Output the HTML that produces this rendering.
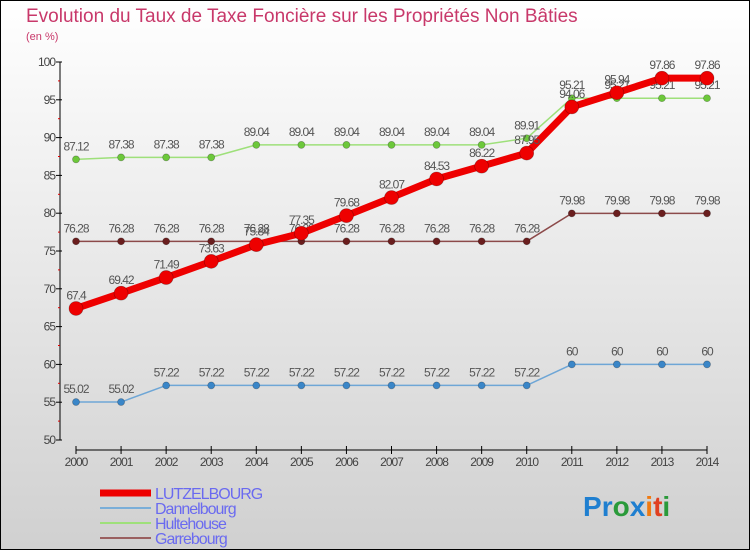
<!DOCTYPE html>
<html><head><meta charset="utf-8"><style>
html,body{margin:0;padding:0}
body{width:750px;height:550px;overflow:hidden;font-family:"Liberation Sans",sans-serif}
</style></head><body>
<svg width="750" height="550" xmlns="http://www.w3.org/2000/svg" id="svg">
<defs><linearGradient id="bg" x1="0" y1="0" x2="0" y2="1"><stop offset="0" stop-color="#ffffff"/><stop offset="1" stop-color="#d0d0d0"/></linearGradient></defs>
<rect x="0.5" y="0.5" width="749" height="549" fill="url(#bg)" stroke="#000"/>
<text x="26" y="22" font-size="19" fill="#c8386a">Evolution du Taux de Taxe Foncière sur les Propriétés Non Bâties</text>
<text x="26" y="40" font-size="11" fill="#c8386a">(en %)</text>
<g id="axes"></g>
<g id="series"></g>
<g id="legend"></g>
<text x="583" y="516" font-size="28" font-weight="bold"><tspan fill="#1f7fd0">P</tspan><tspan fill="#1f7fd0">r</tspan><tspan fill="#2a9a3a">o</tspan><tspan fill="#1f7fd0">x</tspan><tspan fill="#f07a10">i</tspan><tspan fill="#e04020">t</tspan><tspan fill="#2a9a3a">i</tspan></text>
</svg>
<script>
const years=[2000,2001,2002,2003,2004,2005,2006,2007,2008,2009,2010,2011,2012,2013,2014];
const yTicks=[50,55,60,65,70,75,80,85,90,95,100];
const lutz=[67.4,69.42,71.49,73.63,75.84,77.35,79.68,82.07,84.53,86.22,87.95,94.06,95.94,97.86,97.86];
const dann=[55.02,55.02,57.22,57.22,57.22,57.22,57.22,57.22,57.22,57.22,57.22,60,60,60,60];
const hult=[87.12,87.38,87.38,87.38,89.04,89.04,89.04,89.04,89.04,89.04,89.91,95.21,95.21,95.21,95.21];
const garr=[76.28,76.28,76.28,76.28,76.28,76.28,76.28,76.28,76.28,76.28,76.28,79.98,79.98,79.98,79.98];
const NS="http://www.w3.org/2000/svg";
function xS(i){return 76+i*(707-76)/(years.length-1);}
function yS(v){return 440-(v-50)*(440-62)/50;}
function mk(tag,attrs,parent,txt){const e=document.createElementNS(NS,tag);for(const k in attrs)e.setAttribute(k,attrs[k]);if(txt!==undefined)e.textContent=txt;parent.appendChild(e);return e;}
const ax=document.getElementById('axes');
let e=mk('line',{x1:60,y1:62,x2:60,y2:440,stroke:'#000'},ax);

e=mk('line',{x1:76,y1:450,x2:707,y2:450,stroke:'#000'},ax);

yTicks.forEach(v=>{
  mk('line',{x1:56,y1:yS(v),x2:62,y2:yS(v),stroke:'#000'},ax);
  if(v<100)mk('line',{x1:58,y1:yS(v+2.5),x2:60,y2:yS(v+2.5),stroke:'#d00'},ax);
  const t=mk('text',{x:55,y:yS(v)+4,'font-size':12,'text-anchor':'end',fill:'#444','letter-spacing':'-1'},ax,String(v));
  
});
years.forEach((y,i)=>{
  mk('line',{x1:xS(i),y1:446,x2:xS(i),y2:454,stroke:'#000'},ax);
  const t=mk('text',{x:xS(i),y:466,'font-size':12,'text-anchor':'middle',fill:'#444','letter-spacing':'-1'},ax,String(y));
  
});
const sg=document.getElementById('series');
function series(name,vals,color,w,r,mcolor){
  const g=mk('g',{},sg);
  
  const p=mk('polyline',{points:vals.map((v,i)=>xS(i)+','+yS(v)).join(' '),fill:'none',stroke:color,'stroke-width':w,'stroke-linejoin':'round'},g);
  
  vals.forEach((v,i)=>{
    const c=mk('circle',{cx:xS(i),cy:yS(v),r:r,fill:mcolor,stroke:'rgba(0,0,0,0.3)','stroke-width':0.7},g);
    
    const t=mk('text',{x:xS(i),y:yS(v)-9,'font-size':12,'text-anchor':'middle',fill:'#555','letter-spacing':'-1'},g,String(v));
    
  });
}
series('dannelbourg',dann,'#6ea6d6',1.5,3.5,'#3a86c8');
series('garrebourg',garr,'#8c4a4a',1.5,3.5,'#6a1e1e');
series('hultehouse',hult,'#9ee07a',1.5,3.5,'#6cc83a');
series('lutzelbourg',lutz,'#ee0000',7,7,'#ee0000');
const lg=document.getElementById('legend');
const names=['LUTZELBOURG','Dannelbourg','Hultehouse','Garrebourg'];
const cols=['#ee0000','#7aaed8','#9ee07a','#9a6060'];
const ws=[7,2,2,2];
names.forEach((n,i)=>{
  const y=493+i*15;
  const l=mk('line',{x1:100,y1:y,x2:151,y2:y,stroke:cols[i],'stroke-width':ws[i]},lg);
  
  const t=mk('text',{x:155,y:y+6,'font-size':16,fill:'#6a6af0','letter-spacing':'-1'},lg,n);
  
});
</script>
</body></html>
